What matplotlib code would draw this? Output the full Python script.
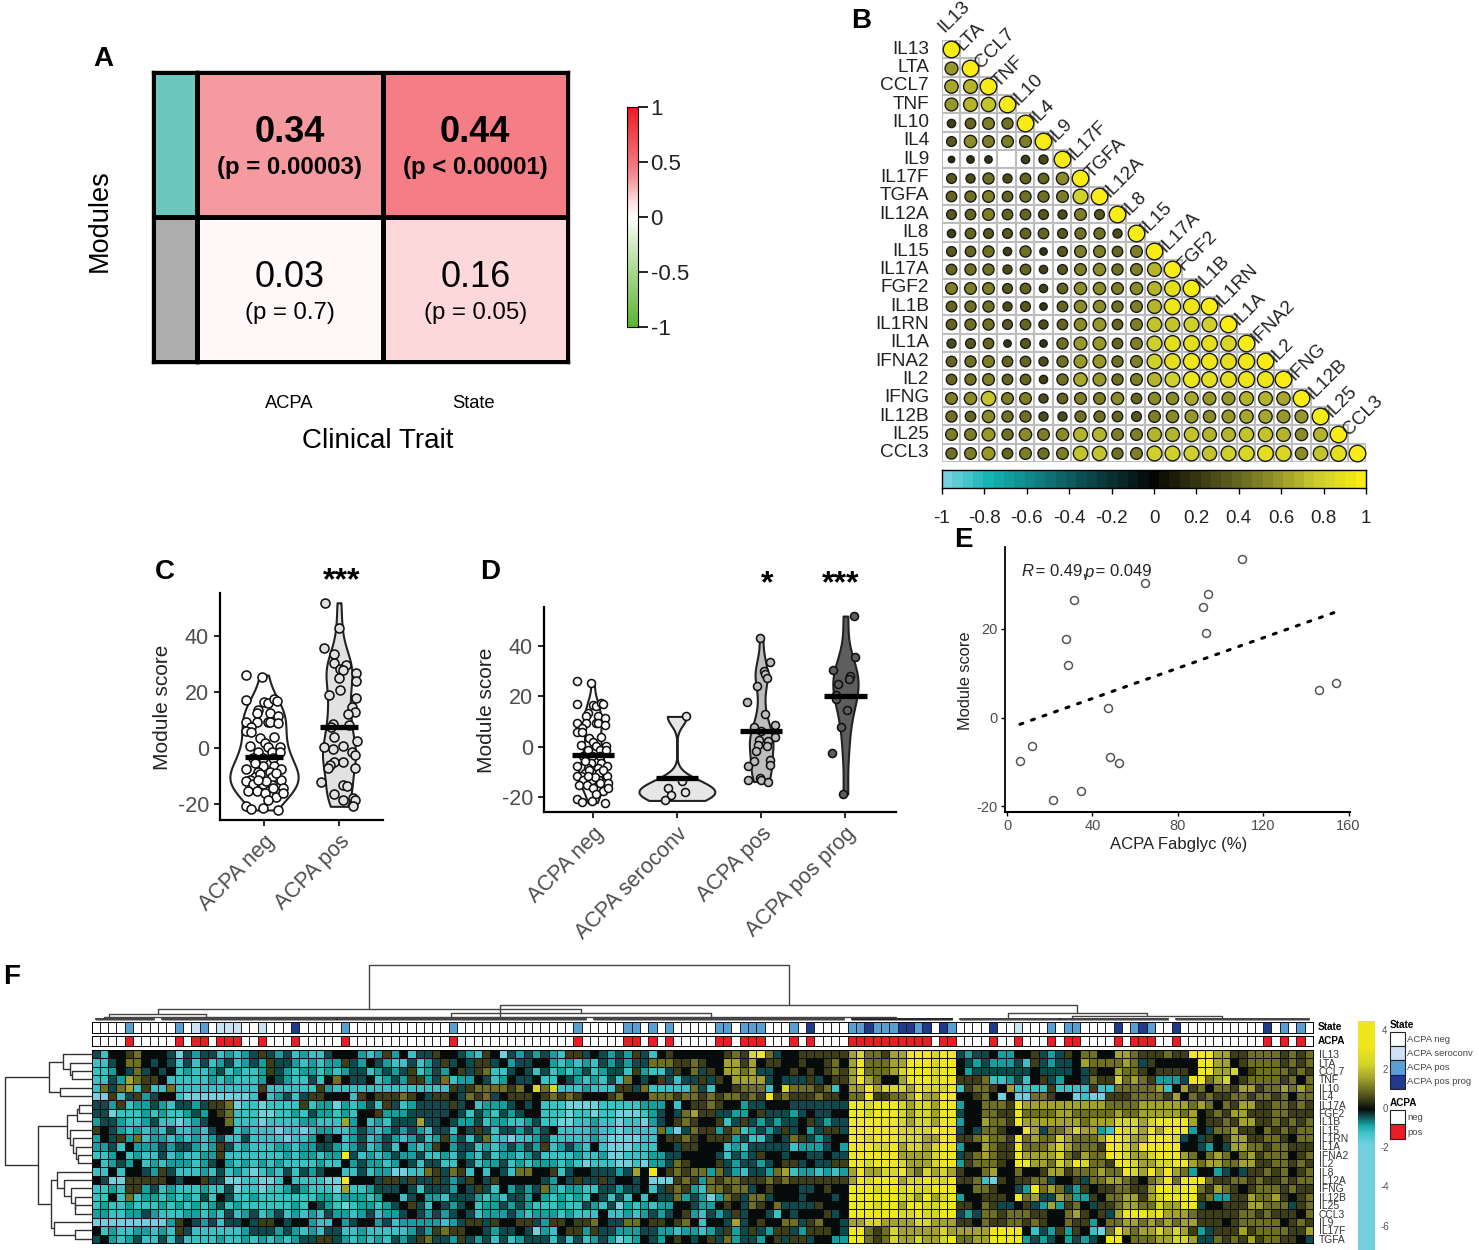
import numpy as np
import matplotlib
matplotlib.use('Agg')
import matplotlib.pyplot as plt
from matplotlib.colors import LinearSegmentedColormap, ListedColormap, Normalize
from matplotlib.patches import Rectangle

plt.rcParams['font.family'] = ['Liberation Sans', 'DejaVu Sans']

# ---------- Panel A ----------
A_VALUES = [[0.34, 0.44], [0.03, 0.16]]
A_TEXT = [['(p = 0.00003)', '(p < 0.00001)'], ['(p = 0.7)', '(p = 0.05)']]
A_BOLD = [[True, True], [False, False]]
A_COLS = ['ACPA', 'State']
A_MODULES = ['#6BC8BC', '#ADADAD']
A_CBAR_TICKS = [1, 0.5, 0, -0.5, -1]
A_CBAR_LABELS = ['1', '0.5', '0', '-0.5', '-1']

# ---------- Panel B ----------
CYTOKINES_B = ['IL13', 'LTA', 'CCL7', 'TNF', 'IL10', 'IL4', 'IL9', 'IL17F', 'TGFA', 'IL12A', 'IL8', 'IL15',
               'IL17A', 'FGF2', 'IL1B', 'IL1RN', 'IL1A', 'IFNA2', 'IL2', 'IFNG', 'IL12B', 'IL25', 'CCL3']
CORR = [
    [1],
    [.6, 1],
    [.65, .7, 1],
    [.6, .7, .75, 1],
    [.25, .4, .5, .45, 1],
    [.35, .55, .5, .5, .5, 1],
    [.15, .2, .2, 0, .25, .3, 1],
    [.35, .3, .45, .3, .4, .4, .55, 1],
    [.4, .45, .5, .4, .45, .45, .5, .8, 1],
    [.35, .4, .5, .4, .4, .35, .3, .5, .35, 1],
    [.25, .4, .35, .35, .4, .4, .35, .45, .45, .3, 1],
    [.35, .4, .45, .25, .45, .2, .35, .5, .5, .4, .5, 1],
    [.4, .45, .45, .3, .4, .25, .35, .5, .55, .45, .5, .7, 1],
    [.5, .5, .5, .35, .4, .25, .4, .55, .55, .5, .55, .7, .9, 1],
    [.4, .45, .45, .3, .35, .2, .4, .55, .55, .45, .5, .7, .95, .95, 1],
    [.4, .45, .45, .35, .4, .3, .4, .55, .6, .4, .5, .75, .75, .8, .8, 1],
    [.3, .35, .4, .2, .35, .2, .45, .6, .6, .4, .5, .8, .9, .9, .9, .85, 1],
    [.4, .45, .5, .4, .4, .3, .45, .6, .6, .45, .5, .8, .9, .95, .95, .9, .95, 1],
    [.4, .45, .5, .4, .4, .25, .45, .65, .6, .45, .5, .7, .8, .95, .9, .9, .95, .95, 1],
    [.5, .55, .75, .5, .5, .3, .4, .5, .5, .55, .4, .55, .55, .65, .6, .6, .7, .7, .65, 1],
    [.45, .4, .55, .45, .45, .3, .3, .45, .45, .4, .35, .5, .55, .6, .55, .6, .65, .65, .6, .6, 1],
    [.5, .5, .6, .45, .55, .5, .55, .7, .7, .5, .5, .7, .7, .75, .7, .7, .75, .75, .7, .55, .7, 1],
    [.45, .5, .6, .4, .5, .45, .5, .75, .75, .45, .5, .8, .8, .8, .75, .8, .85, .9, .85, .55, .75, .9, 1],
]
B_TICKS = [-1, -.8, -.6, -.4, -.2, 0, .2, .4, .6, .8, 1]
B_TICK_LABELS = ['-1', '-0.8', '-0.6', '-0.4', '-0.2', '0', '0.2', '0.4', '0.6', '0.8', '1']

# ---------- Panel C ----------
C_NEG_Y = [26, 25.4, 17, 16.4, 16, 17.4, 16.8, 13.5, 12.3, 12.3, 11.4, 9.3, 9.3, 9.3, 9.3, 8.7, 7.5, 6, 5.7, 3.3, 1.8,
           3.7, .7, .4, .4, -1.4, -1.4, -1.4, -3.8, -3.8, -3.8, -7.6, -6.5, -6.5, -7.6, -8.6, -8.6, -10.4, -11.5,
           -11.8, -9.4, -10.4, -11.5, -13.1, -13.1, -13.3, -15.4, -15.4, -14.5, -14.5, -16.3, -17.7, -18.7, -21,
           -21.9, -21.7, -22.3, -16.3, -5.6, -9.2, -12.1, -11.5]
C_NEG_X = [-.24, -.03, -.24, 0, .05, .13, .17, -.08, -.1, .08, .19, -.24, -.1, .05, .08, .19, -.17, -.24, -.17, -.06,
           .01, .13, -.19, .05, .21, -.08, .11, .21, -.15, -.01, .12, -.24, -.02, .13, .22, -.08, .08, -.12, -.19,
           -.24, -.06, .1, .23, -.01, -.15, .1, -.21, -.09, .12, .25, .01, .16, .05, -.24, -.17, -.01, .19, .25,
           -.12, .16, .03, -.08]
C_POS_Y = [51.9, 43, 35.7, 33.5, 30.5, 29.5, 28.3, 27.7, 26.8, 24.8, 23.9, 20.6, 19, 17.9, 14.6, 12.9, 12, 8.5, 7.5,
           8.1, 3.9, 2.5, .4, -.5, .6, -1.4, -2.6, -5, -6.2, -5.2, -7.1, -7.4, -12.4, -13.3, -13.9, -16.5, -18.1,
           -18.9, -18.7, -21]
C_POS_X = [-.18, 0, -.2, -.06, -.07, .09, .01, .06, .23, 0, .23, .01, -.13, .23, .18, .21, .12, -.08, -.1, .14, -.06,
           .24, -.2, -.08, .06, .17, .22, -.07, -.12, .06, -.15, .21, -.24, .05, .11, -.06, .19, .05, .21, .19]
C_LABELS = ['ACPA neg', 'ACPA pos']
C_BARS = [-3.4, 7.3]

# ---------- Panel D ----------
D_LABELS = ['ACPA neg', 'ACPA seroconv', 'ACPA pos', 'ACPA pos prog']
D_SERO_Y = [12, -13.8, -16.5, -18.2, -19.1, -21.4]
D_SERO_X = [.11, .06, -.11, .10, -.07, -.14]
D_POS_Y = [43.3, 33.6, 30, 29, 27.3, 24, 17.9, 13, 7.7, 8.5, 6.1, 3.9, 2.5, 2.1, .5, .4, -1.9, -5.8, -5.2, -7.6, -7.2,
           -13.1, -12.5, -13.1, -13.9]
D_POS_X = [-.01, .10, .03, .04, .07, -.05, -.17, .04, -.08, .16, 0, .16, -.02, .08, -.04, .07, -.06, -.08, .11, -.16,
           .10, -.16, -.01, 0, .08]
D_PROG_Y = [51.9, 35.7, 30.4, 28, 26.7, 25, 20.7, 19, 14.7, 7.7, -2.5, -18.9]
D_PROG_X = [.1, .115, -.15, .06, .04, -.09, -.11, -.11, .015, -.05, -.155, -.03]
D_BARS = [-3.2, -12.6, 6.2, 20]

# ---------- Panel E ----------
E_X = [5.9, 11.5, 21.4, 27.5, 28.3, 31.4, 34.5, 47.2, 48.4, 52.3, 64.8, 91.9, 93, 94.1, 110, 146, 154]
E_Y = [-9.9, -6.3, -18.7, 17.8, 11.9, 26.6, -16.6, 2.1, -9, -10.2, 30.4, 24.9, 19, 28, 35.7, 6.3, 7.8]
E_FIT_X = [6, 155]
E_FIT_Y = [-1.5, 24]

# ---------- Panel F ----------
F_ROWS = ['IL13', 'LTA', 'CCL7', 'TNF', 'IL10', 'IL4', 'IL17A', 'FGF2', 'IL1B', 'IL15', 'IL1RN', 'IL1A', 'IFNA2',
          'IL2', 'IL8', 'IL12A', 'IFNG', 'IL12B', 'IL25', 'CCL3', 'IL9', 'IL17F', 'TGFA']
# Level letters a (most negative) ... j (most positive), read cell by cell
LEVEL_LETTERS = 'abcdefghij'
LEVEL_VALUES = [-2.5, -1.2, -0.8, -0.35, 0, 0.5, 1.0, 1.6, 2.3, 3.2]
F_LEFT = [
    'dbeefgeeedadcddbcbcdfdcdbcbbdeeecbcfcebddfeedcbfe',
    'bbdeggededbdbdbcdbcdcfddcbcbccfdcedcbbdbcdfdedffd',
    'bbcedgdedebcbbcdbcbbcfdcbccbcbcddbcdcdfbcdcefdfgb',
    'bbdchgffebbbbbcbcbbbcedcbbdbegeddebcdcffcdgbccedb',
    'bgdghbfbbgbbbbbbbbbbfbbbbbbfcbbbbbbbbbbbbbbfdfggg',
    'aafbdfcdeebaaaaaaaabebcdbdffeeebfefffgfedffedgfgd',
    'ddcfbccdcbddcdffgabbabbbbfbccacbcdbfdbcddddfdebcc',
    'ddabbbcbcbbcdcefgbbbaabbcbdccbcbeefcccdddddedbdcb',
    'cddcbbcdbbabcdeegbbbabbbbccbbbhcebcbdddhddedccdbc',
    'fedcbcbcbdbbcbdeebcbbbabbabccbbcdcbcdcdcbddbedfdb',
    'cedfcgbccbcbcbcdbbdbbbbabbcedebcdbcdcbcdbcfcdbdgb',
    'ccdbecccdcddcbcfdbcbbbccbccddcbcdbcdbecbcfecddbcb',
    'bbcebcbbdbcbbccfbbbbbbbcbccbccjdbcbcdccdbbcbdcbdb',
    'ebcdcebcbcccbcdecbcbcbcbbbbcbbecdccbcedbddbbedbcc',
    'bbebeedcfdbbbcbdbcbabcbdbdcdeebbdbccaabbgfdgfbebe',
    'edaafffffedeefddaabbaabebbbbaajeeedffdfddfdcdfedf',
    'bbcbffcdbcbbbcbbdabbabbcdcbbbahbbcdddedbdddcedfdb',
    'bbebgbccbcbcbdbedbbcbbbbbbbccbcccbceebdeccbdddcbc',
    'bcbbcbbbcbcbcbcdbcbbbbbbcbedcbabccbcdefdbedcdebcc',
    'ccbbccdcbbbccbcbdbcdbcdbcbcbdccbcdbccdedcdcdedbcc',
    'aaaaaaaaacfedcdbddedffedeecbbecdeecdbcccccbcdffdf',
    'ebcbbccbcbfdbbbbbbcdddcdcbcbddbbcbbbbbcdcfgffeedc',
    'decbcdbbdbdbbbbcbbcbcbcbcddffdcbcbcbdcdfgddcfdcdb',
]
F_MIDDLE = [
    'adcdcdcbffdedcdcfdbefeeeeeefgfijgdeeffffff',
    'ecddeecbcbcbdcdcddgggffgfeehhfheffeefeefge',
    'bdedbdbcbcdbcddbfcbbdfegdfehhghddeefefefgf',
    'ceddebbedcbcbdbgedefdbddfdfehhhhdedddfdeff',
    'gfgeigibbbcbbbffdgbbbbbgdbeefgggbeigggfgbe',
    'efffefgfgfeeefgeeegggfggfgfggfgfjfgfffgffe',
    'cdedebbbaaaabbbbbcccebeffgfeecddeeeddddddd',
    'dcdeebbbabbabbaaabcdedghffddccefdddcdeddee',
    'cbbcdbbaabbcbbabbacdefgfeefbdfdcdcddefdcdd',
    'ddcdcdebbbbcbbabbbbgcadgffcfgbcdcdfdecdffd',
    'babbcdbbbbbcbaaaabbeffgfefffcdbbdedgfdcdee',
    'cdcdcfbcdcbebaaabbbeedffeeebcbdddddbcccdec',
    'ccbcdbbbbcbbcaabbbccddeeeedbdcdfeedeeddedd',
    'dbcbcccbcbabbbaabaccdgfeeefdcddcdeffdeddff',
    'dbggeefbdeedddcdhejefgfggcgdcbddcghbccbcbc',
    'eeeeedcedfddfdeedeaaafgfcgfggfffgfgfffffff',
    'ecdcdgcbccbbddcddebdfgfcbggfggdefeeeddefee',
    'bddcecbcbcbedbdbebeddgcdcacgfdggdeeedeeede',
    'dcdcbbbcbbdcbdacbcbcceedccefedgfegddddfeee',
    'cdcbcccbcbbbebbcbcdcdefcbdcdfdeedbedeeefde',
    'eeffdcffeffgeddggeffefgebeedhdefeeggdfgeed',
    'ddedacbeffcfddcccddccbccbcdfcdfdcffdcfffed',
    'dbcdddbdbdbcdcabcedcefedefdgcddcefdffdeecc',
]
F_BLOCK = [
    'higgfhhjjjijj', 'hjggghhjjjijj', 'hjggghijjjijj', 'hjhgeehjjjijj', 'hhjhiiihjiiij', 'ggjffgghjhhjj',
    'jjijjjihiihjj', 'jjijjjihiihjj', 'jjjjjjihiihjj', 'jjjjjjiiiijjj', 'jjijjjiiihhjj', 'jjjiijhiihijj',
    'jjjjjjhhhhijj', 'jjijjjihhhijj', 'hjhhiijhgihih', 'hjijjjhiijiij', 'jjjijjijiijjj', 'jjjjjjiihjhij',
    'jjjijjhjjiijj', 'jjjjjjiijiijj', 'hhiihhhhiihhh', 'jjgfgihhhhhih', 'jjgfgihhihhij',
]
F_AFTER = ['dcdd', 'edcd', 'ecdd', 'fffg', 'bfgg', 'eefg', 'ceeg', 'deeg', 'ceeh', 'dedg', 'ffgh', 'ceeh', 'dfgh',
           'cfgg', 'feeg', 'ffgb', 'eegg', 'ceef', 'ffeg', 'dcdg', 'ffeg', 'hhhh', 'gghh']
F_RIGHT = [
    'ecceefdcdfeggeehhgfffgffjjjhhffggggfgfg',
    'cccdbfdcddehgggghgdfeeeeejjhhefggggfgfg',
    'dddddeddddedfeehggfeffffejjhhiefggggfgf',
    'bbcdbefdceedgffighgfcccdjjghiefggggfgeg',
    'fehbbbbfbbbbfbbggggghbehfgeggfhhfgghghg',
    'eaeaaggfeeabaafffggggfhegfgffggfggfgegg',
    'ggfjhhhhhhhhhhgggghhhhhhghgegfhhffggfgf',
    'gffjgggghhggggghgghhhhhghefgfhhfffggfff',
    'ggfjhhhhhhhghhhiiihijjjjheffgfhhffgfgfg',
    'gfeejhdgghihhcbjiihjhjjjcedgghffegfgfgg',
    'ggfjghggihggghjjihhjjjidedfefhhffggfegg',
    'gffjggghihgggfjjihjjjjjeedcedhhggfggfff',
    'gffjhhhhigfhggjjihhijjjhgeghgeghfgggefg',
    'gfejjhhgihjiggfjjihhiijjhghhgghhffggfgf',
    'heegeefhhfggghggjihjhjhgceecdedffgfgefg',
    'afeffggdeefdgghhgfeghjgjjjgffggfgffgfgg',
    'feedcjghgdcfeffggffhjjijjgfhgfefgggfgff',
    'ffejghddhgccfegghhfhijjjjfgccffhgghfefg',
    'fddefdchcfgedffghhggihhjjdeefffhhgggdfg',
    'gfgggffeeghfefdhjjjijhhhgfffffggfgfffeg',
    'ffggfgfeegffcegghhghghghhfffefgggggefgf',
    'jjjjebdcfcfebagjhghhihihfcdfffhfggggffh',
    'jjjjcdcdecdcdejjeggghhiihddgfgfhfggffed',
]
N_COLS = 147
STATE_SEROCONV = [12, 15, 16, 17, 20, 111]
STATE_POS = [4, 10, 13, 30, 43, 58, 64, 65, 67, 69, 75, 76, 78, 79, 80, 84, 91, 92, 94, 95, 96, 99, 103, 115, 117, 118,
             125, 127, 143, 145]
STATE_PROG = [24, 86, 93, 97, 98, 100, 102, 108, 123, 126, 130, 141]
STATE_NAMES = ['ACPA neg', 'ACPA seroconv', 'ACPA pos', 'ACPA pos prog']
STATE_COLORS = ['#FFFFFF', '#CFE2F3', '#5A9FD4', '#1F3A8C']
ACPA_NAMES = ['neg', 'pos']
ACPA_COLORS = ['#FFFFFF', '#EC1C24']
F_CBAR_TICKS = [4, 2, 0, -2, -4, -6]

# dendrograms: node = (height, child, child); row leaf = int; column leaf = (centre, first, last)
ROW_TREE = (87,
            (43, (29, 0, (22, 1, (20, 2, 3))), (32, 4, 5)),
            (54, (25, (15, (13, 6, 7), 8), (22, 9, (18.5, 10, (16, 11, (14, 12, 13))))),
             (41, (35, 14, (28, 15, (21, 16, (17, 17, (17, 18, 19))))), (38, 20, (17, 21, 22)))))
COL_TREE = (56,
            (12, (7, (2.1, 0, 7), (13.8, 8, 29)), (8, (43.3, 29, 59), (74.5, 60, 90))),
            (16, (4, (96.8, 91, 103), (1.5, 91, 103)),
             (8, (110.3, 104, 116), (5, (118, 116, 129), (136, 130, 146)))))

# ---------- drawing ----------
fig = plt.figure(figsize=(14.79, 12.5), dpi=100)
W, H = 1479.0, 1250.0


def ax_px(x0, y0, x1, y1, **kw):
    return fig.add_axes([x0 / W, 1 - y1 / H, (x1 - x0) / W, (y1 - y0) / H], **kw)


ov = fig.add_axes([0, 0, 1, 1], zorder=20)
ov.set_xlim(0, W)
ov.set_ylim(H, 0)
ov.axis('off')
ov.patch.set_alpha(0)

for letter, lx, ly in [('A', 103, 59), ('B', 861, 21), ('C', 165, 572), ('D', 490, 572), ('E', 963, 540), ('F', 12, 977)]:
    ov.text(lx, ly, letter, fontsize=20, fontweight='bold', ha='center', va='center', color='black')

# Panel A
a_cmap = LinearSegmentedColormap.from_list('a', [(0, '#5DB531'), (0.25, '#A9D98F'), (0.5, '#FFFFFF'), (0.58, '#FDD8DA'),
                                                 (0.67, '#F59A9E'), (0.72, '#F57E86'), (1, '#ED1C24')])
axa = ax_px(197, 72, 568, 362)
axa.pcolormesh(np.array(A_VALUES), cmap=a_cmap, vmin=-1, vmax=1, edgecolors='black', linewidth=2.4)
axa.set_ylim(2, 0)
axa.set_xticks([])
axa.set_yticks([])
for s in axa.spines.values():
    s.set_linewidth(2.4)
for r in range(2):
    for c in range(2):
        w = 'bold' if A_BOLD[r][c] else 'normal'
        axa.text(c + .5, r + .42, f'{A_VALUES[r][c]:.2f}', ha='center', va='center', fontsize=26, fontweight=w)
        axa.text(c + .5, r + .66, A_TEXT[r][c], ha='center', va='center', fontsize=17.3, fontweight=w)
axm = ax_px(153, 72, 197, 362)
axm.pcolormesh(np.array([[0], [1]]), cmap=ListedColormap(A_MODULES), edgecolors='black', linewidth=2.4)
axm.set_ylim(2, 0)
axm.set_xticks([])
axm.set_yticks([])
for s in axm.spines.values():
    s.set_linewidth(2.4)
for i, t in enumerate(A_COLS):
    ov.text(289 + 185 * i, 404, t, fontsize=13.2, ha='center', va='center')
ov.text(378, 441, 'Clinical Trait', fontsize=20, ha='center', va='center')
ov.text(100, 221, 'Modules', fontsize=19.5, rotation=90, ha='center', va='center')
axac = ax_px(627, 107, 638, 327)
axac.imshow(np.linspace(1, -1, 200)[:, None], aspect='auto', cmap=a_cmap, vmin=-1, vmax=1, extent=[0, 1, -1, 1])
axac.set_xticks([])
axac.yaxis.tick_right()
axac.set_yticks(A_CBAR_TICKS)
axac.set_yticklabels(A_CBAR_LABELS, fontsize=16, color='#222222')
axac.tick_params(axis='y', length=7, width=1.2, pad=2)
for s in axac.spines.values():
    s.set_linewidth(0.8)

# Panel B
b_cmap = LinearSegmentedColormap.from_list('b', [(0, '#74D2E0'), (.1, '#12B5B5'), (.3, '#0E5A5E'), (.5, '#050505'),
                                                 (.75, '#7C7C26'), (.9, '#CFCF2C'), (1, '#F8EC14')])
axb = ax_px(942, 40, 1366, 462)
axb.set_xlim(0, 23)
axb.set_ylim(23, 0)
axb.axis('off')
for i, row in enumerate(CORR):
    for j, v in enumerate(row):
        axb.add_patch(Rectangle((j, i), 1, 1, facecolor='white', edgecolor='#BDBDBD', linewidth=1.5, zorder=1))
        if v != 0:
            d = np.sqrt(abs(v)) * 0.9 * 18.4 * 0.72
            axb.scatter(j + .5, i + .5, s=d ** 2, c=[v], cmap=b_cmap, vmin=-1, vmax=1, edgecolors='#1A1A1A',
                        linewidths=1.0, zorder=2, clip_on=False)
    axb.text(-0.7, i + .5, CYTOKINES_B[i], ha='right', va='center', fontsize=13.7, color='#222222')
    axb.text(i + .25, i - .25, CYTOKINES_B[i], rotation=45, ha='left', va='bottom', fontsize=13.7, color='#222222',
             rotation_mode='anchor')
axbc = ax_px(942, 470, 1366, 488)
axbc.imshow(np.round(np.linspace(-1, 1, 41), 3)[None, :], aspect='auto', cmap=b_cmap, vmin=-1, vmax=1,
            extent=[-1, 1, 0, 1])
axbc.set_yticks([])
axbc.set_xticks(B_TICKS)
axbc.set_xticklabels(B_TICK_LABELS, fontsize=13.5, color='#222222')
axbc.tick_params(axis='x', length=4, width=1, pad=12)
for s in axbc.spines.values():
    s.set_linewidth(1.0)


def style_violin_axes(ax, labels, ticks, fs):
    ax.spines['top'].set_visible(False)
    ax.spines['right'].set_visible(False)
    ax.spines['left'].set_linewidth(1.6)
    ax.spines['bottom'].set_linewidth(1.6)
    ax.set_xticks(ticks)
    ax.set_xticklabels(labels, rotation=45, ha='right', rotation_mode='anchor', fontsize=fs, color='#4D4D4D')
    ax.set_yticks([-20, 0, 20, 40])
    ax.set_yticklabels(['-20', '0', '20', '40'], fontsize=fs, color='#4D4D4D')
    ax.tick_params(length=4, width=1.2, pad=4)
    ax.patch.set_alpha(0)


def violin(ax, pos, ys, xs, width, bw, fill, bar, s, barw=.25):
    ys = np.array(ys)
    parts = ax.violinplot([ys], positions=[pos], widths=width, showextrema=False, bw_method=bw, points=200)
    for b in parts['bodies']:
        b.set_facecolor(fill)
        b.set_edgecolor('#222222')
        b.set_linewidth(1.5)
        b.set_alpha(1)
    ax.scatter(pos + np.array(xs), ys, s=s, facecolors=fill, edgecolors='#111111', linewidths=1.15, zorder=3)
    ax.hlines(bar, pos - barw, pos + barw, colors='black', linewidth=3.8, zorder=4)


# Panel C
axc = ax_px(220, 593, 383, 820)
violin(axc, 0, C_NEG_Y, C_NEG_X, .91, .42, 'white', C_BARS[0], 42)
violin(axc, 1, C_POS_Y, C_POS_X, .44, .3, '#E2E2E2', C_BARS[1], 42)
axc.set_xlim(-.587, 1.587)
axc.set_ylim(-25.9, 55.4)
style_violin_axes(axc, C_LABELS, [0, 1], 15.5)
ov.text(163, 707, 'Module score', rotation=90, fontsize=15, ha='center', va='center', color='#222222')
ov.text(342, 581, '***', fontsize=23, fontweight='bold', ha='center', va='center')

# Panel D
axd = ax_px(544, 607, 896, 812)
violin(axd, 0, C_NEG_Y, np.array(C_NEG_X) * .75, .34, .3, 'white', D_BARS[0], 33)
violin(axd, 1, D_SERO_Y, D_SERO_X, .9, .28, '#E6E6E6', D_BARS[1], 33)
violin(axd, 2, D_POS_Y, D_POS_X, .28, .3, '#BDBDBD', D_BARS[2], 33)
violin(axd, 3, D_PROG_Y, D_PROG_X, .3, .4, '#5E5E5E', D_BARS[3], 33)
axd.set_xlim(-.577, 3.6)
axd.set_ylim(-26, 55.5)
style_violin_axes(axd, D_LABELS, [0, 1, 2, 3], 15.5)
ov.text(487, 710, 'Module score', rotation=90, fontsize=15, ha='center', va='center', color='#222222')
ov.text(767, 584, '*', fontsize=23, fontweight='bold', ha='center', va='center')
ov.text(841, 584, '***', fontsize=23, fontweight='bold', ha='center', va='center')

# Panel E
axe = ax_px(1004.6, 547, 1350, 812)
axe.plot(E_FIT_X, E_FIT_Y, color='black', linewidth=2.2, linestyle=(0, (1, 3.0)), dash_capstyle='round', zorder=1)
axe.scatter(E_X, E_Y, s=33, facecolors='white', edgecolors='#555555', linewidths=1.1, zorder=2)
axe.set_xlim(-1.2, 160.7)
axe.set_ylim(-21.3, 38.5)
axe.spines['top'].set_visible(False)
axe.spines['right'].set_visible(False)
axe.spines['left'].set_linewidth(1.3)
axe.spines['bottom'].set_linewidth(1.5)
axe.set_xticks([0, 40, 80, 120, 160])
axe.set_yticks([-20, 0, 20])
axe.set_yticklabels(['-20', '0', '20'])
axe.tick_params(labelsize=10.5, labelcolor='#4D4D4D', length=3, width=1, pad=2)
axe.patch.set_alpha(0)
ov.text(965, 681, 'Module score', rotation=90, fontsize=11.8, ha='center', va='center', color='#222222')
ov.text(1179, 844, 'ACPA Fabglyc (%)', fontsize=12, ha='center', va='center', color='#222222')
ov.text(1021, 572, r'$\mathit{R}$ = 0.49, $\mathit{p}$ = 0.049', fontsize=12, ha='left', va='center',
        color='#222222', math_fontfamily='custom') if False else None
ov.text(1021, 572, 'R', fontsize=12, style='italic', ha='left', va='center', color='#222222')
ov.text(1031, 572, ' = 0.49, ', fontsize=12, ha='left', va='center', color='#222222')
ov.text(1084, 572, 'p', fontsize=12, style='italic', ha='left', va='center', color='#222222')
ov.text(1091, 572, ' = 0.049', fontsize=12, ha='left', va='center', color='#222222')

# Panel F
f_values = np.array(LEVEL_VALUES)
grid = []
for r in range(len(F_ROWS)):
    s = (F_LEFT[r].ljust(49, 'e')[:49] + F_MIDDLE[r].ljust(42, 'e')[:42] + F_BLOCK[r][:13] + F_AFTER[r][:4]
         + F_RIGHT[r].ljust(39, 'f')[:39])
    grid.append([f_values[LEVEL_LETTERS.index(ch)] for ch in s])
grid = np.array(grid)
f_cmap = LinearSegmentedColormap.from_list('f', [(0, '#72D0DE'), (.45, '#72D0DE'), (.50, '#3CC4C8'), (.525, '#17A0A0'),
                                                 (.56, '#0E4A4E'), (.6, '#060C0C'), (.64, '#3E3E18'), (.68, '#6E6E22'),
                                                 (.73, '#A3A32C'), (.79, '#D4D42A'), (.86, '#F0E61E'), (1, '#F0E61E')])
# norm built so the strongest-value nodes sit where the reference bar puts them
f_vmin, f_vmax = -7.2, 4.5


def to_f(v):
    nodes_v = [-7.2, -1.8, -1.2, -0.8, -0.35, 0, 0.5, 1.0, 1.6, 2.3, 3.2, 4.5]
    nodes_c = [0, .45, .50, .525, .56, .6, .64, .68, .73, .79, .86, 1]
    return np.interp(v, nodes_v, nodes_c)


axf = ax_px(91.5, 1050, 1313, 1243)
axf.pcolormesh(to_f(grid), cmap=f_cmap, vmin=0, vmax=1, edgecolors='#0A0A0A', linewidth=0.7)
axf.set_ylim(len(F_ROWS), 0)
axf.set_xticks([])
axf.yaxis.tick_right()
axf.set_yticks(np.arange(len(F_ROWS)) + .5)
axf.set_yticklabels(F_ROWS, fontsize=7.4, color='#333333')
axf.tick_params(axis='y', length=0, pad=4)
for s in axf.spines.values():
    s.set_linewidth(0.7)

state = np.zeros((1, N_COLS), int)
state[0, STATE_SEROCONV] = 1
state[0, STATE_POS] = 2
state[0, STATE_PROG] = 3
acpa = (state > 0).astype(int)
for arr, colors, y0, y1, name in [(state, STATE_COLORS, 1022, 1032.5, 'State'), (acpa, ACPA_COLORS, 1035.5, 1046, 'ACPA')]:
    axs = ax_px(91.5, y0, 1313, y1)
    axs.pcolormesh(arr, cmap=ListedColormap(colors), vmin=-.5, vmax=len(colors) - .5, edgecolors='#222222', linewidth=0.7)
    axs.set_xticks([])
    axs.set_yticks([])
    for s in axs.spines.values():
        s.set_linewidth(0.7)
    ov.text(1318, (y0 + y1) / 2, name, fontsize=7.2, fontweight='bold', ha='left', va='center')

# Column dendrogram
axt = ax_px(91.5, 960, 1313, 1021)
axt.set_xlim(0, N_COLS)
axt.set_ylim(0, 61)
axt.axis('off')


def draw_col(node, parent_h):
    if len(node) == 3 and isinstance(node[1], tuple):
        h, a, b = node
        xa = draw_col(a, h)
        xb = draw_col(b, h)
        axt.plot([xa, xa, xb, xb], [h_of(a), h, h, h_of(b)], color='#444444', lw=1.0, solid_capstyle='butt')
        return (xa + xb) / 2
    centre, lo, hi = node
    axt.plot([lo + .5, hi + .5], [2.0, 2.0], color='#222222', lw=1.2)
    axt.plot([lo + .5, hi + .5], [1.0, 1.0], color='#888888', lw=0.6)
    return centre


def h_of(node):
    return node[0] if isinstance(node[1], tuple) else 2.0


draw_col(COL_TREE, None)

# Row dendrogram
axr = ax_px(0, 1050, 91.5, 1243)
axr.set_xlim(91.5, 0)
axr.set_ylim(len(F_ROWS), 0)
axr.axis('off')


def draw_row(node):
    if isinstance(node, int):
        return node + .5, 0
    h, a, b = node
    ya, ha = draw_row(a)
    yb, hb = draw_row(b)
    axr.plot([ha, h, h, hb], [ya, ya, yb, yb], color='#333333', lw=1.0, solid_capstyle='butt')
    return (ya + yb) / 2, h


draw_row(ROW_TREE)

# Heatmap colour bar and legends
axfc = ax_px(1358, 1021, 1375, 1250)
axfc.imshow(to_f(np.linspace(4.5, -7.2, 400))[:, None], aspect='auto', cmap=f_cmap, vmin=0, vmax=1,
            extent=[0, 1, -7.2, 4.5])
axfc.set_xticks([])
axfc.set_yticks([])
for s in axfc.spines.values():
    s.set_visible(False)
for t in F_CBAR_TICKS:
    ov.text(1385, 1109 - 19.6 * t, str(t), fontsize=7, ha='center', va='center', color='#555555')

ov.text(1390, 1025, 'State', fontsize=7.2, fontweight='bold', ha='left', va='center')
for i, (n, c) in enumerate(zip(STATE_NAMES, STATE_COLORS)):
    ov.add_patch(Rectangle((1390, 1032 + 14.2 * i), 15, 14.2, facecolor=c, edgecolor='#222222', lw=0.8))
    ov.text(1407, 1039 + 14.2 * i, n, fontsize=6.8, ha='left', va='center', color='#444444')
ov.text(1390, 1103, 'ACPA', fontsize=7.2, fontweight='bold', ha='left', va='center')
for i, (n, c) in enumerate(zip(ACPA_NAMES, ACPA_COLORS)):
    ov.add_patch(Rectangle((1390, 1110 + 14.4 * i), 15, 14.4, facecolor=c, edgecolor='#222222', lw=0.8))
    ov.text(1407, 1118 + 14.4 * i, n, fontsize=6.8, ha='left', va='center', color='#444444')

fig.savefig('out.png', dpi=100)
